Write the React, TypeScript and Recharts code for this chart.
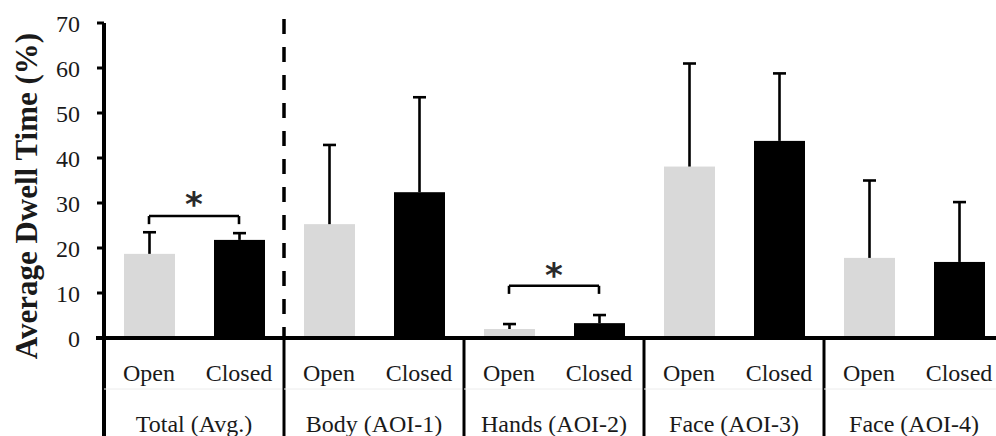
import React from 'react';
import {
    BarChart, Bar, XAxis, YAxis, Cell, ReferenceLine, ReferenceDot,
} from 'recharts';

// groups (areas of interest) and conditions
const GROUPS = ['Total (Avg.)', 'Body (AOI-1)', 'Hands (AOI-2)', 'Face (AOI-3)', 'Face (AOI-4)'];
const CONDITIONS = ['Open', 'Closed'];

// mean dwell time (%) per group
const OPEN_MEAN = [18.7, 25.3, 2.0, 38.1, 17.8];
const CLOSED_MEAN = [21.8, 32.4, 3.3, 43.8, 16.9];

// standard deviation (upper whisker only)
const OPEN_SD = [4.8, 17.6, 1.1, 22.9, 17.2];
const CLOSED_SD = [1.5, 21.1, 1.8, 15.0, 13.3];

const Y_TICKS = [0, 10, 20, 30, 40, 50, 60, 70];

// significance brackets: group index, bracket level, drop, star level
const SIG_GROUP = [0, 2];
const SIG_LEVEL = [27.1, 11.6];
const SIG_DROP = [1.8, 1.8];
const SIG_STAR = [30.8, 15.2];

// the dashed divider sits after this many categories
const DIVIDER_AT = 2;

const COLORS = ['#d9d9d9', '#000000'];
const FONT = 'Liberation Serif, DejaVu Serif, serif';

const data = GROUPS.flatMap((g, gi) => [
    { group: g, cond: CONDITIONS[0], mean: OPEN_MEAN[gi], sd: OPEN_SD[gi] },
    { group: g, cond: CONDITIONS[1], mean: CLOSED_MEAN[gi], sd: CLOSED_SD[gi] },
]).map((d, i) => ({ ...d, key: `${d.group}-${d.cond}-${i}`, pos: i + 0.5 }));

const BarWithError = (props: any) => {
    const { x, y, width, height, fill, payload } = props;
    const perUnit = payload.mean > 0 ? height / payload.mean : 0;
    const top = y - payload.sd * perUnit;
    const cx = x + width / 2;
    return (
        <g>
            <rect x={x} y={y} width={width} height={height} fill={fill} />
            <line x1={cx} y1={y} x2={cx} y2={top} stroke="#000" strokeWidth={2.6} />
            <line x1={cx - 6.5} y1={top} x2={cx + 6.5} y2={top} stroke="#000" strokeWidth={2.6} />
        </g>
    );
};

const CategoryTick = (props: any) => {
    const { x, y, payload, index } = props;
    const i = index ?? payload.index;
    const d = data[i];
    const half = payload.offset || 45;
    const lineCol = '#000';
    return (
        <g>
            <text x={x} y={y + 43} textAnchor="middle" style={{ fontFamily: FONT }} fontSize={24} fill="#1a1a1a">
                {d ? d.cond : payload.value}
            </text>
            {i === 0 && (
                <>
                    <line x1={x - half} y1={y - 2} x2={x - half} y2={y + 100} stroke={lineCol} strokeWidth={4} />
                    <line x1={x - half - 8} y1={y} x2={x - half} y2={y} stroke={lineCol} strokeWidth={4} />
                </>
            )}
            {i % 2 === 0 && (
                <>
                    <line x1={x - half} y1={y + 51} x2={x + 3 * half} y2={y + 51} stroke="#ececec" strokeWidth={1} />
                    <text x={x + half} y={y + 94} textAnchor="middle" style={{ fontFamily: FONT }} fontSize={24} fill="#1a1a1a">
                        {d ? d.group : ''}
                    </text>
                </>
            )}
            {i % 2 === 1 && i < data.length - 1 && (
                <line x1={x + half} y1={y} x2={x + half} y2={y + 100} stroke={lineCol} strokeWidth={3} />
            )}
        </g>
    );
};

const App: React.FC = () => {
    return (
        <div style={{ position: 'absolute', left: 0, top: 0, width: 996, height: 436, overflow: 'hidden', background: '#fff' }}>
            <BarChart
                width={1004}
                height={436}
                data={data}
                margin={{ top: 23, right: 0, left: 0, bottom: 0 }}
                barSize={51}
            >
                <XAxis
                    dataKey="key"
                    height={98}
                    tickLine={false}
                    tickSize={0}
                    tickMargin={0}
                    interval={0}
                    axisLine={{ stroke: '#000', strokeWidth: 4 }}
                    tick={<CategoryTick />}
                />
                <XAxis xAxisId="n" dataKey="pos" type="number" domain={[0, data.length]} hide allowDataOverflow />
                <YAxis
                    width={104}
                    domain={[0, 70]}
                    ticks={Y_TICKS}
                    interval={0}
                    tickSize={7}
                    tickMargin={17}
                    axisLine={{ stroke: '#000', strokeWidth: 4 }}
                    tickLine={{ stroke: '#000', strokeWidth: 3 }}
                    tick={{ style: { fontFamily: FONT }, fontSize: 24, fill: '#1a1a1a' }}
                    label={{
                        content: () => (
                            <text
                                x={26}
                                y={196}
                                transform="rotate(-90, 26, 196)"
                                textAnchor="middle"
                                dominantBaseline="central"
                                style={{ fontFamily: FONT }}
                                fontWeight="bold"
                                fontSize={31}
                                fill="#1a1a1a"
                            >
                                Average Dwell Time (%)
                            </text>
                        ),
                    }}
                />
                <Bar dataKey="mean" isAnimationActive={false} shape={<BarWithError />}>
                    {data.map((d, i) => (
                        <Cell key={d.key} fill={COLORS[i % 2]} />
                    ))}
                </Bar>
                <ReferenceLine
                    xAxisId="n"
                    segment={[{ x: DIVIDER_AT, y: 70.9 }, { x: DIVIDER_AT, y: 0 }]}
                    stroke="#000"
                    strokeWidth={3.5}
                    strokeDasharray="15 13"
                    ifOverflow="visible"
                />
                {SIG_GROUP.map((g, k) => {
                    const a = g * 2 + 0.5;
                    const b = g * 2 + 1.5;
                    const lv = SIG_LEVEL[k];
                    const lo = lv - SIG_DROP[k];
                    return (
                        <React.Fragment key={`sig-${k}`}>
                            <ReferenceLine xAxisId="n" segment={[{ x: a, y: lo }, { x: a, y: lv }]} stroke="#000" strokeWidth={2.6} ifOverflow="visible" />
                            <ReferenceLine xAxisId="n" segment={[{ x: a, y: lv }, { x: b, y: lv }]} stroke="#000" strokeWidth={2.6} ifOverflow="visible" />
                            <ReferenceLine xAxisId="n" segment={[{ x: b, y: lv }, { x: b, y: lo }]} stroke="#000" strokeWidth={2.6} ifOverflow="visible" />
                            <ReferenceDot
                                xAxisId="n"
                                x={(a + b) / 2}
                                y={SIG_STAR[k]}
                                r={1}
                                fill="none"
                                stroke="none"
                                ifOverflow="visible"
                                label={{
                                    content: (p: any) => {
                                        const vb = p.viewBox || {};
                                        const cx = (vb.x ?? 0) + (vb.width ?? 0) / 2;
                                        const cy = (vb.y ?? 0) + (vb.height ?? 0) / 2;
                                        return (
                                            <text x={cx} y={cy + 17} textAnchor="middle" style={{ fontFamily: 'DejaVu Sans, sans-serif' }} fontWeight="bold" fontSize={34} fill="#2a2a2a">
                                                *
                                            </text>
                                        );
                                    },
                                }}
                            />
                        </React.Fragment>
                    );
                })}
            </BarChart>
        </div>
    );
};

export default App;
